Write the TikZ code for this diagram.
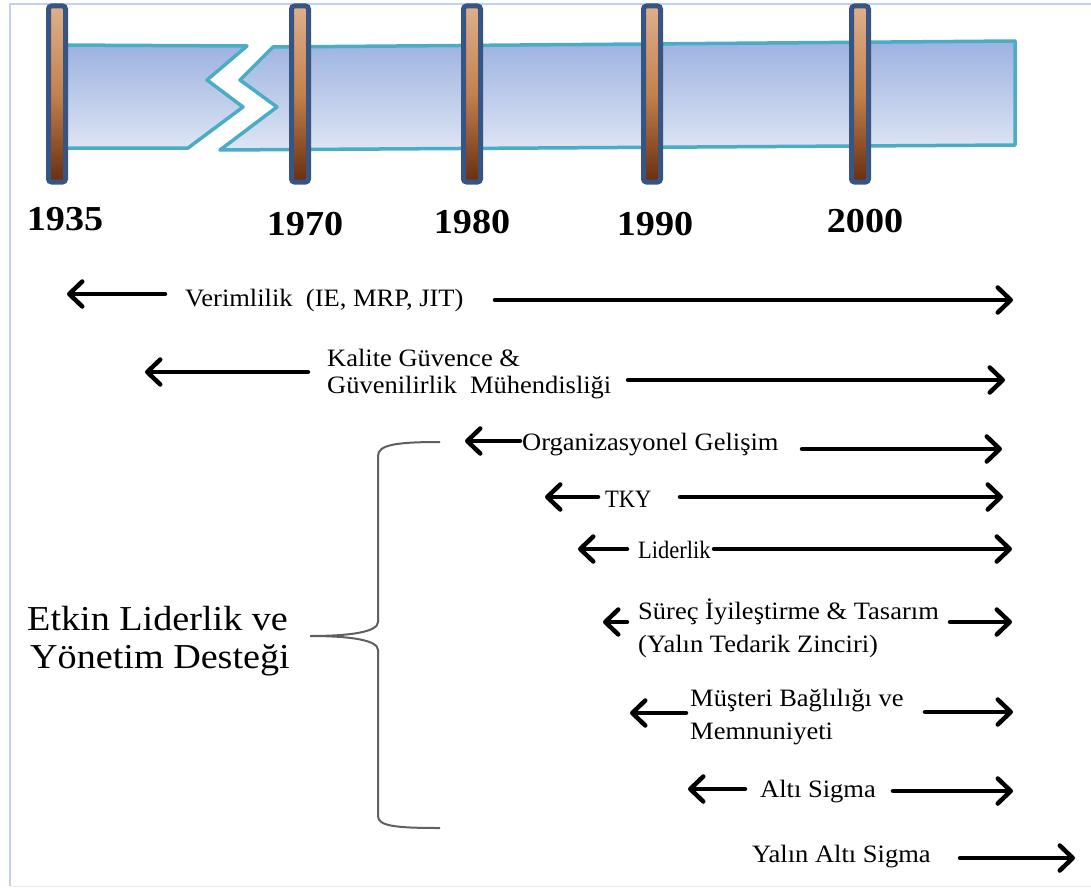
\documentclass[tikz,border=0pt]{standalone}
\usepackage{fontspec}
\setmainfont{Liberation Serif}
\newfontfamily\itemfont[FakeStretch=1.06]{Liberation Serif}
\newfontfamily\widefont[FakeStretch=1.09]{Liberation Serif}
\newfontfamily\narrowfont[FakeStretch=0.9]{Liberation Serif}
\usetikzlibrary{arrows.meta}

\definecolor{framecol}{RGB}{196,208,238}
\definecolor{bandtop}{RGB}{156,178,224}
\definecolor{bandbot}{RGB}{222,229,244}
\definecolor{bandline}{RGB}{75,172,198}
\definecolor{bartop}{RGB}{222,176,140}
\definecolor{barmid}{RGB}{196,128,78}
\definecolor{barbot}{RGB}{104,46,16}
\definecolor{barline}{RGB}{55,85,130}
\definecolor{bracecol}{RGB}{95,95,95}

\tikzset{
  yearlbl/.style={font=\widefont\fontsize{35}{40}\selectfont\bfseries, inner sep=0pt, anchor=base},
  itemlbl/.style={font=\itemfont\fontsize{25}{29}\selectfont, inner sep=0pt, anchor=base west},
  narrowlbl/.style={font=\narrowfont\fontsize{25}{29}\selectfont, inner sep=0pt, anchor=base west},
  sidelbl/.style={font=\widefont\fontsize{35}{40}\selectfont, inner sep=0pt, anchor=base west},
  era/.style={line width=4.5pt, line cap=round,
    -{Straight Barb[length=13pt,width=25pt,line width=4.5pt,round]}},
  yearbar/.style={draw=barline, line width=5pt, rounded corners=3pt,
    top color=bartop, bottom color=barbot, middle color=barmid},
  band/.style={draw=bandline, line width=3.5pt, line join=round,
    top color=bandtop, bottom color=bandbot}
}

\begin{document}
\begin{tikzpicture}[x=1pt,y=-1pt]
\useasboundingbox (0,0) rectangle (1091,888);

% page frame
\draw[framecol, line width=2pt] (10,886) -- (10,4) -- (1091,4);
\draw[black!8, line width=1pt] (10,886.5) -- (1091,886.5);

% broken time band
\draw[band] (57,45) -- (247,46) -- (207,80) -- (243,107) -- (188,148) -- (57,148) -- cycle;
\draw[band] (273,47) -- (1015,41) -- (1015,145) -- (220,150) -- (277,107) -- (240,80) -- cycle;

% year markers
\foreach \x in {57,300,472,652,860}
  \draw[yearbar] (\x-8.5,6) rectangle (\x+8.5,182);

\node[yearlbl] (y1935) at (65,230) {1935};
\node[yearlbl] (y1970) at (305,235) {1970};
\node[yearlbl] (y1980) at (472,233) {1980};
\node[yearlbl] (y1990) at (655,235) {1990};
\node[yearlbl] (y2000) at (865,232) {2000};

% eras
\node[itemlbl] (ver) at (185,306) {Verimlilik\ \ (IE, MRP, JIT)};
\coordinate (verL0) at (165,294); \coordinate (verL1) at (67,294);
\coordinate (verR0) at (495,300); \coordinate (verR1) at (1013,300);
\draw[era] (verL0) -- (verL1);
\draw[era] (verR0) -- (verR1);

\node[itemlbl] (kal1) at (327,366) {Kalite Güvence \&};
\node[itemlbl] (kal2) at (327,393) {Güvenilirlik\ \ Mühendisliği};
\coordinate (kalL0) at (308,372); \coordinate (kalL1) at (145,372);
\coordinate (kalR0) at (628,380); \coordinate (kalR1) at (1005,380);
\draw[era] (kalL0) -- (kalL1);
\draw[era] (kalR0) -- (kalR1);

\node[itemlbl] (org) at (522,450) {Organizasyonel Gelişim};
\coordinate (orgL0) at (520,441); \coordinate (orgL1) at (465,441);
\coordinate (orgR0) at (802,449); \coordinate (orgR1) at (1002,449);
\draw[era] (orgL0) -- (orgL1);
\draw[era] (orgR0) -- (orgR1);

\node[narrowlbl] (tky) at (605,507) {TKY};
\coordinate (tkyL0) at (598,497); \coordinate (tkyL1) at (545,497);
\coordinate (tkyR0) at (680,497); \coordinate (tkyR1) at (1003,497);
\draw[era] (tkyL0) -- (tkyL1);
\draw[era] (tkyR0) -- (tkyR1);

\node[narrowlbl] (lid) at (638,558) {Liderlik};
\coordinate (lidL0) at (627,549); \coordinate (lidL1) at (578,549);
\coordinate (lidR0) at (714,549); \coordinate (lidR1) at (1012,549);
\draw[era] (lidL0) -- (lidL1);
\draw[era] (lidR0) -- (lidR1);

\node[itemlbl] (sur1) at (638,619) {Süreç İyileştirme \& Tasarım};
\node[itemlbl] (sur2) at (638,652) {(Yalın Tedarik Zinciri)};
\coordinate (surL0) at (627,622); \coordinate (surL1) at (603,622);
\coordinate (surR0) at (950,622); \coordinate (surR1) at (1012,622);
\draw[era] (surL0) -- (surL1);
\draw[era] (surR0) -- (surR1);

\node[itemlbl] (mus1) at (690,706) {Müşteri Bağlılığı ve};
\node[itemlbl] (mus2) at (690,739) {Memnuniyeti};
\coordinate (musL0) at (686,713); \coordinate (musL1) at (630,713);
\coordinate (musR0) at (925,712); \coordinate (musR1) at (1013,712);
\draw[era] (musL0) -- (musL1);
\draw[era] (musR0) -- (musR1);

\node[itemlbl] (alt) at (760,797) {Altı Sigma};
\coordinate (altL0) at (745,789); \coordinate (altL1) at (688,789);
\coordinate (altR0) at (893,791); \coordinate (altR1) at (1013,791);
\draw[era] (altL0) -- (altL1);
\draw[era] (altR0) -- (altR1);

\node[itemlbl] (yal) at (752,862) {Yalın Altı Sigma};
\coordinate (yalR0) at (960,858); \coordinate (yalR1) at (1075,858);
\draw[era] (yalR0) -- (yalR1);

% grouping brace
\draw[bracecol, line width=2pt]
  (440,442) .. controls (395,442) and (378,445) .. (378,456)
  -- (378,622) .. controls (378,632) and (350,636) .. (310,636)
  .. controls (350,636) and (378,640) .. (378,650)
  -- (378,816) .. controls (378,826) and (395,828) .. (440,828);

\node[sidelbl] (etk1) at (27,630) {Etkin Liderlik ve};
\node[sidelbl] (etk2) at (30,668) {Yönetim Desteği};
\end{tikzpicture}
\end{document}
